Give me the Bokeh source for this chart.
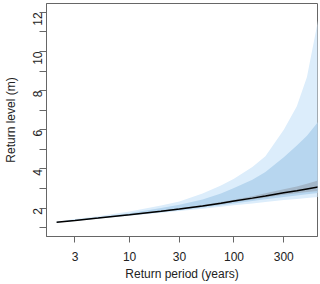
import math
from bokeh.plotting import figure
from bokeh.models import FixedTicker, CustomJSTickFormatter, Range1d
from bokeh.embed import file_html
from bokeh.resources import INLINE

# Return periods (years)
period = [2, 3, 5, 10, 20, 30, 50, 75, 100, 150, 200, 300, 400, 500, 650]
# Central return level estimate (m)
level = [1.28, 1.37, 1.49, 1.66, 1.84, 1.95, 2.11, 2.25, 2.36, 2.51, 2.62, 2.78, 2.89, 2.98, 3.08]
# Outer (light) band
outer_hi = [1.30, 1.44, 1.58, 1.83, 2.13, 2.34, 2.75, 3.15, 3.50, 4.10, 4.65, 6.00, 7.20, 8.70, 11.8]
outer_lo = [1.26, 1.345, 1.455, 1.61, 1.76, 1.85, 1.97, 2.07, 2.14, 2.24, 2.31, 2.41, 2.47, 2.52, 2.57]
# Middle band
mid_hi = [1.29, 1.40, 1.53, 1.74, 2.00, 2.17, 2.44, 2.74, 3.03, 3.45, 3.85, 4.60, 5.20, 5.70, 6.45]
mid_lo = [1.27, 1.355, 1.47, 1.63, 1.79, 1.89, 2.03, 2.15, 2.24, 2.36, 2.45, 2.57, 2.65, 2.71, 2.77]
# Inner (gray) band
inner_hi = [1.285, 1.38, 1.50, 1.68, 1.87, 1.99, 2.16, 2.31, 2.43, 2.60, 2.76, 2.96, 3.11, 3.24, 3.42]
inner_lo = [1.275, 1.36, 1.48, 1.645, 1.82, 1.92, 2.07, 2.20, 2.31, 2.44, 2.54, 2.68, 2.76, 2.82, 2.88]

x_ticks = [3, 10, 30, 100, 300]
y_ticks = list(range(1, 13))

FONT = "Liberation Sans"

p = figure(width=320, height=284, x_axis_type="log",
           x_range=Range1d(1.6, 631), y_range=Range1d(0.55, 12.45),
           output_backend="svg", toolbar_location=None,
           min_border_left=45, min_border_right=3, min_border_top=3, min_border_bottom=48)

p.varea(x=period, y1=outer_lo, y2=outer_hi, fill_color="#dcedfb")
p.varea(x=period, y1=mid_lo, y2=mid_hi, fill_color="#b7d6ef")
p.varea(x=period, y1=inner_lo, y2=inner_hi, fill_color="#a3b7c9")
p.line(x=period, y=level, line_color="black", line_width=1.5)

p.xgrid.visible = False
p.ygrid.visible = False
p.outline_line_color = "#666666"
p.outline_line_width = 1

for ax in (p.xaxis[0], p.yaxis[0]):
    ax.axis_line_color = "#666666"
    ax.major_tick_line_color = "#666666"
    ax.minor_tick_line_color = None
    ax.major_tick_in = 0
    ax.major_tick_out = 6
    ax.major_label_text_font = FONT
    ax.major_label_text_font_size = "12px"
    ax.major_label_text_color = "#222222"
    ax.axis_label_text_font = FONT
    ax.axis_label_text_font_size = "12px"
    ax.axis_label_text_font_style = "normal"
    ax.axis_label_text_color = "#222222"

p.xaxis.ticker = FixedTicker(ticks=x_ticks)
p.xaxis.formatter = CustomJSTickFormatter(code="return tick.toFixed(0);")
p.xaxis.axis_label = "Return period (years)"
p.xaxis.major_label_standoff = 9
p.xaxis.axis_label_standoff = 3

p.yaxis.ticker = FixedTicker(ticks=y_ticks)
p.yaxis.formatter = CustomJSTickFormatter(code="return (Math.round(tick) % 2 == 0) ? tick.toFixed(0) : '';")
p.yaxis.major_label_orientation = math.pi / 2
p.yaxis.major_tick_out = 7
p.yaxis.axis_label = "Return level (m)"
p.yaxis.major_label_standoff = 2
p.yaxis.axis_label_standoff = 8

open("out.html", "w").write(file_html(p, INLINE))
